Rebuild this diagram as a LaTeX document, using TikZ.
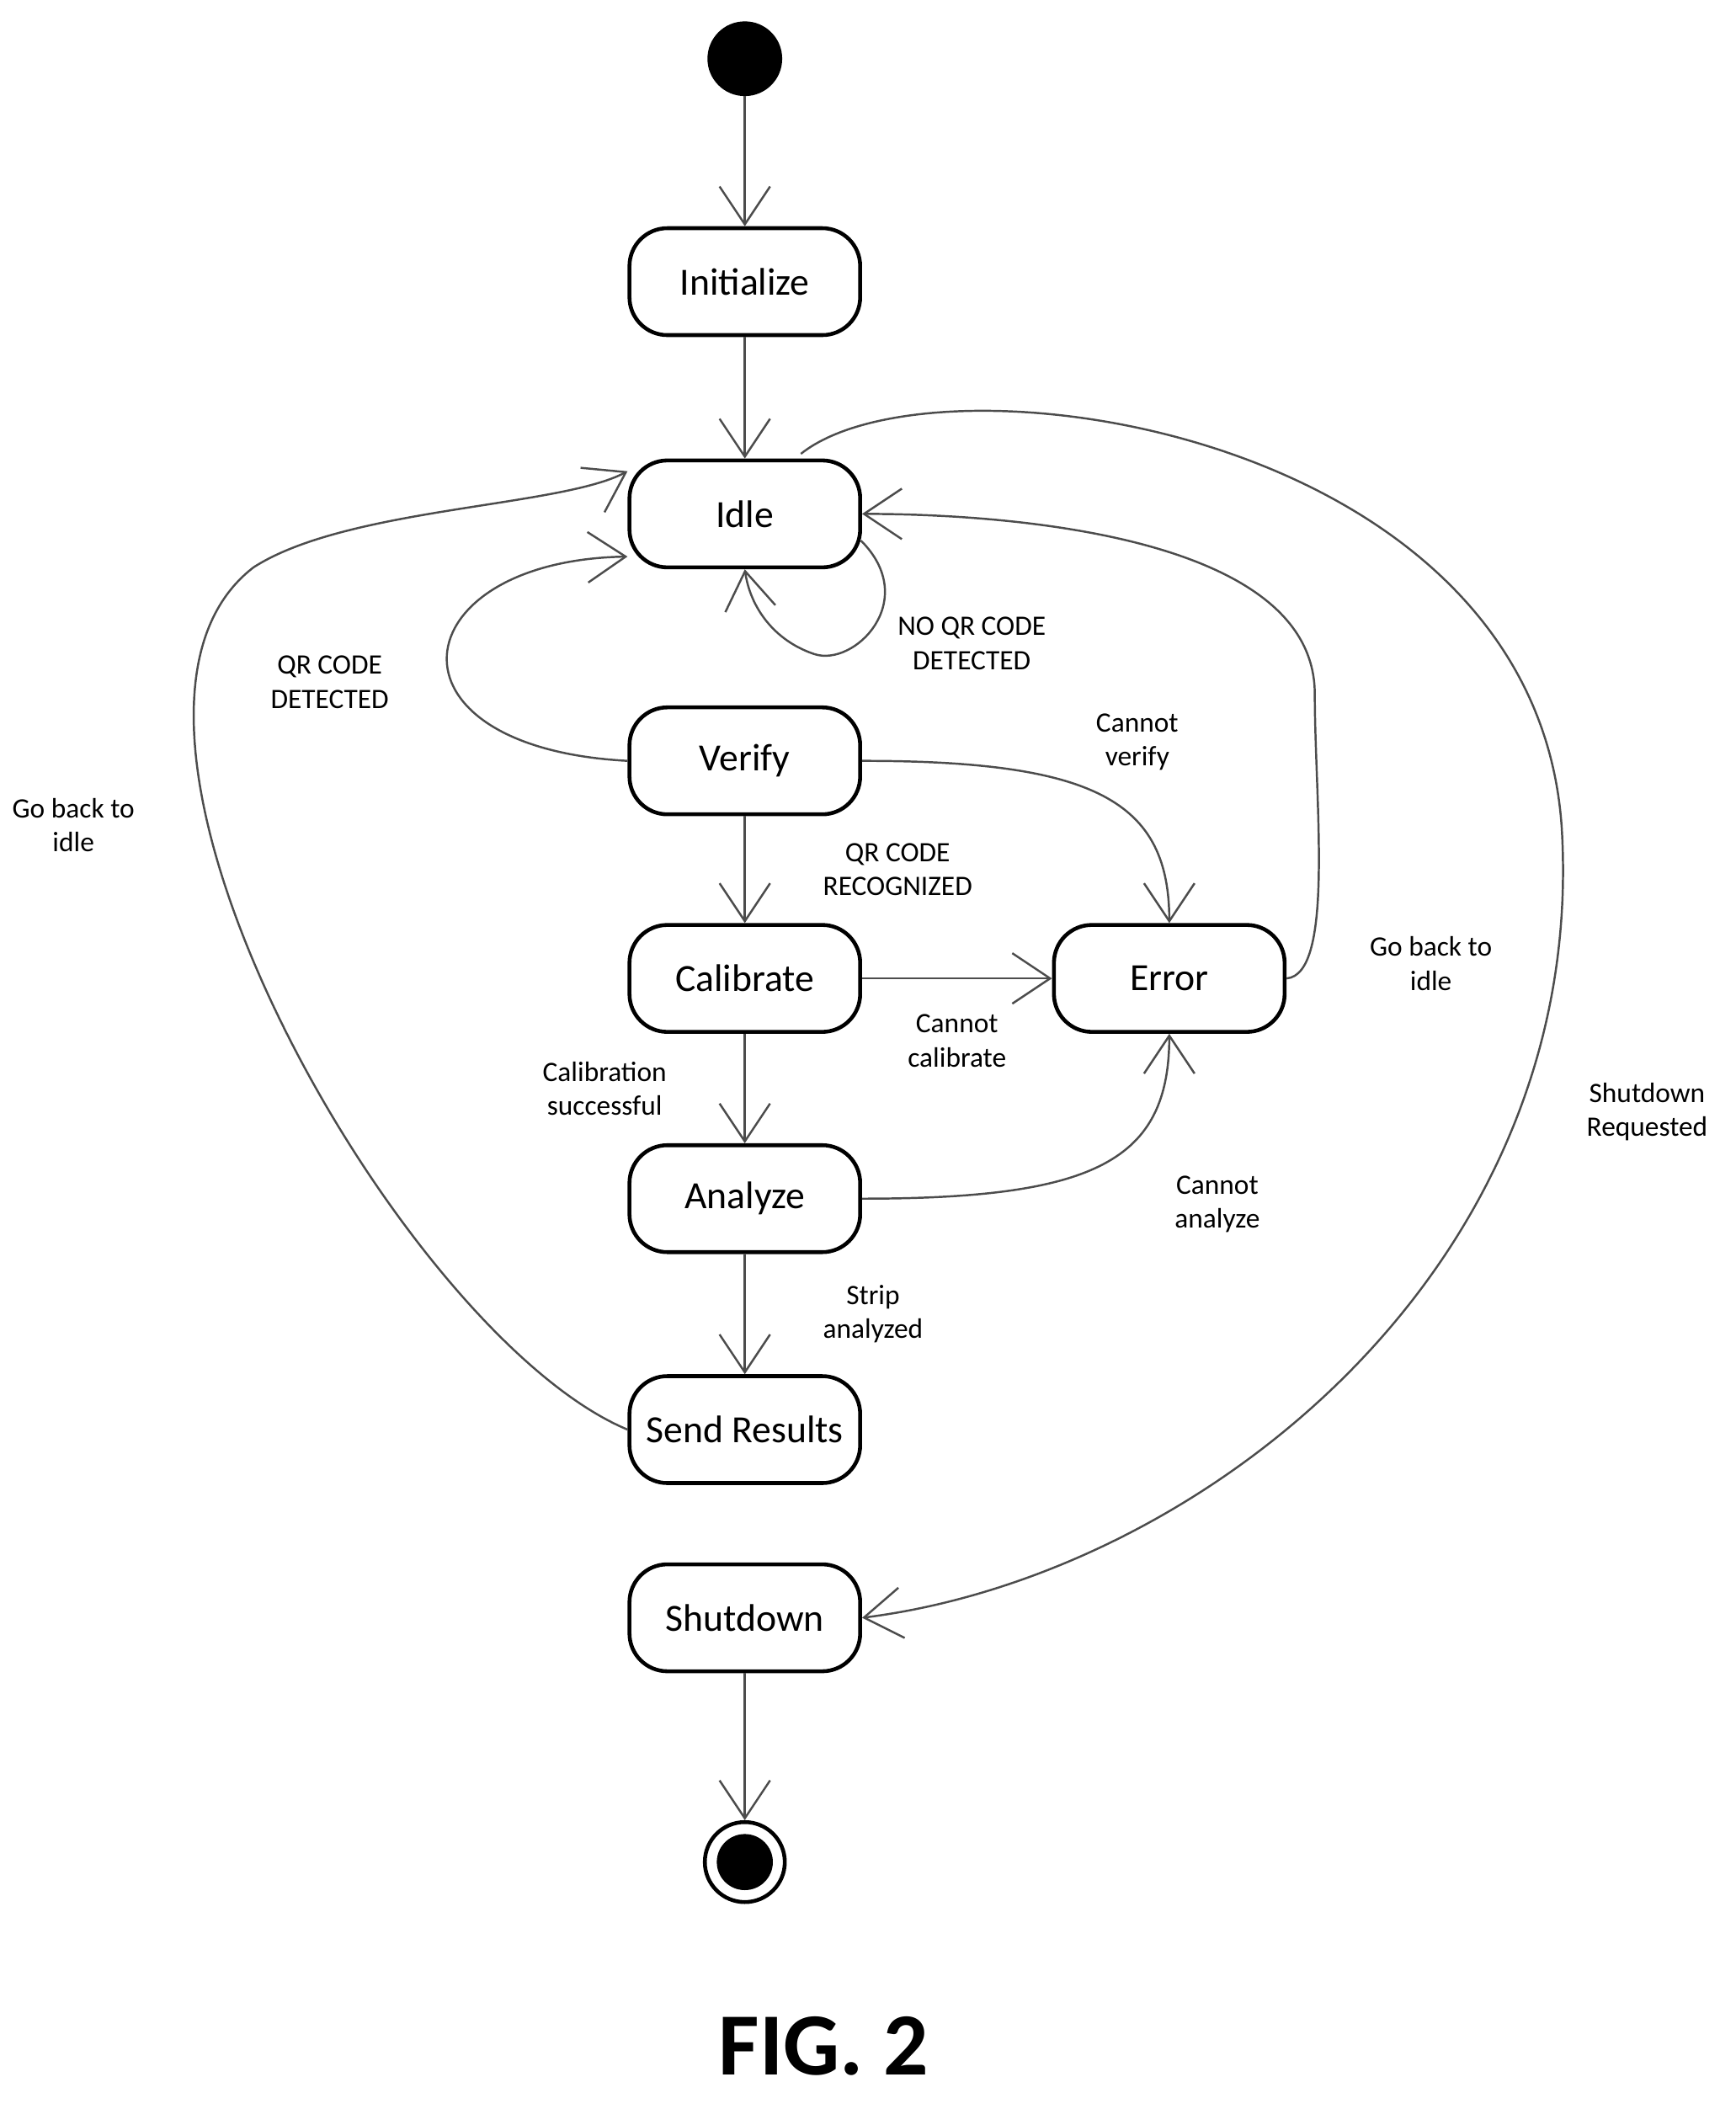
\documentclass[tikz,border=0pt]{standalone}
\usepackage{fontspec}
\setmainfont{Carlito}
\usetikzlibrary{arrows.meta,positioning}
\tikzset{
  state/.style={draw,line width=1.3pt,rounded corners=0.45cm,minimum width=2.74cm,minimum height=1.27cm,font=\fontsize{13}{15}\selectfont},
  trans/.style={draw=black!70,line width=0.7pt,-{Straight Barb[length=4.5mm,width=6mm]}},
  lbl/.style={align=center,font=\fontsize{9.5}{11.5}\selectfont}
}
\begin{document}
\begin{tikzpicture}[x=0.01585cm,y=-0.01585cm]
	\useasboundingbox (0,0) rectangle (1300,1580);
	% states
	\fill (558,44) circle (28) coordinate (start);
	\node[state] (init) at (558,211) {Initialize};
	\node[state] (idle) at (558,385) {Idle};
	\node[state] (verify) at (558,570) {Verify};
	\node[state] (calib) at (558,733) {Calibrate};
	\node[state] (error) at (876,733) {Error};
	\node[state] (analyze) at (558,898) {Analyze};
	\node[state] (send) at (558,1071) {Send Results};
	\node[state] (shut) at (558,1212) {Shutdown};
	\node[circle,draw,line width=1.3pt,minimum size=0.95cm] (stop) at (558,1395) {};
	\fill (stop) circle (21);
	% transitions
	\draw[trans] (558,72) -- (init);
	\draw[trans] (init) -- (idle);
	\draw[trans] (645,405) .. controls (690,450) and (640,500) .. (610,490)
		.. controls (580,480) and (562,455) .. (idle.south);
	\node[lbl] (noqr) at (728,482) {NO QR CODE\\DETECTED};
	\draw[trans] (verify.west) .. controls (280,560) and (300,420) .. (idle.200);
	\node[lbl] (qrdet) at (247,511) {QR CODE\\DETECTED};
	\draw[trans] (verify) -- node[lbl,right=0.8cm] {QR CODE\\RECOGNIZED} (calib);
	\draw[trans] (verify.east) .. controls (820,570) and (876,600) .. (error.north);
	\node[lbl] (nover) at (852,556) {Cannot\\verify};
	\draw[trans] (calib) -- node[lbl,below=0.3cm] {Cannot\\calibrate} (error);
	\draw[trans] (calib) -- node[lbl,left=0.8cm] {Calibration\\successful} (analyze);
	\draw[trans] (analyze.east) .. controls (820,898) and (876,870) .. (error.south);
	\node[lbl] (noana) at (912,902) {Cannot\\analyze};
	\draw[trans] (analyze) -- node[lbl,right=0.8cm] {Strip\\analyzed} (send);
	\draw[trans] (send.west) .. controls (300,1000) and (40,540) .. (190,425)
		.. controls (260,380) and (420,380) .. (idle.160);
	\node[lbl] (back1) at (55,618) {Go back to\\idle};
	\draw[trans] (error.east) .. controls (1000,730) and (985,600) .. (985,520)
		.. controls (985,400) and (750,385) .. (idle.east);
	\node[lbl] (back2) at (1072,722) {Go back to\\idle};
	\draw[trans] (600,340) .. controls (700,260) and (1150,320) .. (1170,620)
		.. controls (1190,950) and (900,1180) .. (shut.east);
	\node[lbl] (shutreq) at (1234,833) {Shutdown\\Requested};
	\draw[trans] (shut) -- (stop);
	\node[font=\fontsize{30}{34}\selectfont\bfseries] (fig) at (617,1533) {FIG. 2};
\end{tikzpicture}
\end{document}
